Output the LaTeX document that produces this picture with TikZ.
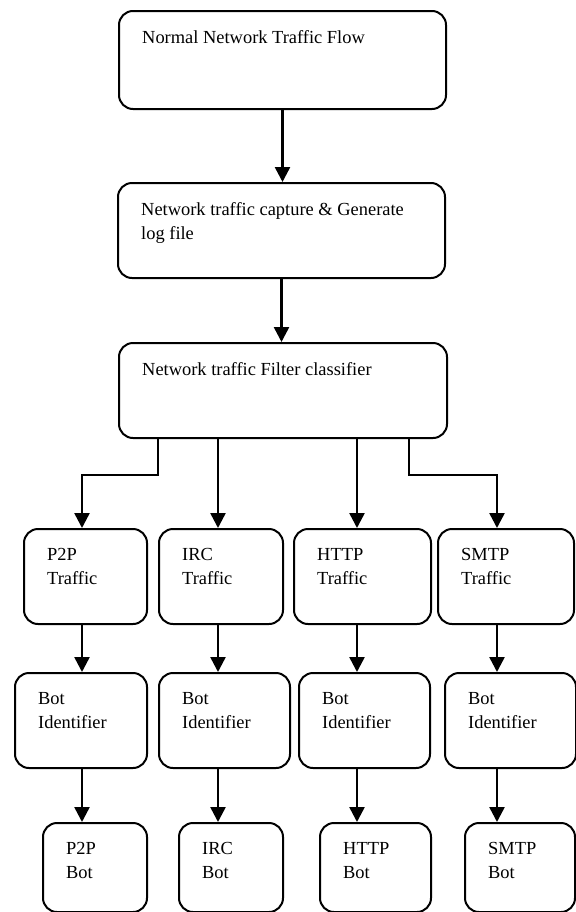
\documentclass[tikz,border=0pt]{standalone}
\usepackage{fontspec}
\setmainfont{Liberation Serif}
\usetikzlibrary{arrows.meta}
\begin{document}
\begin{tikzpicture}[x=1bp, y=-1bp, bnode/.style={rectangle, rounded corners=14bp, draw=black, line width=2bp, anchor=north west, inner sep=0pt}, tlabel/.style={anchor=north west, align=left, inner sep=0pt, xshift=24bp, yshift=-20bp, font=\fontsize{18.5}{24}\selectfont}, arr/.style={line width=2.5bp, -{Triangle[length=15bp 0, width=15bp 0]}}]
	\useasboundingbox (0,0) rectangle (576,912);
	\node[bnode, minimum width=327bp, minimum height=98bp, label={[tlabel]north west:Normal Network Traffic Flow}] (normal) at (118,10) {};
	\node[bnode, minimum width=327bp, minimum height=95bp, label={[tlabel]north west:Network traffic capture \& Generate\\log file}] (capture) at (117,182) {};
	\node[bnode, minimum width=328bp, minimum height=95bp, label={[tlabel]north west:Network traffic Filter classifier}] (filter) at (118,342) {};
	\node[bnode, minimum width=123bp, minimum height=95bp, label={[tlabel]north west:P2P\\Traffic}] (p2pT) at (23,528) {};
	\node[bnode, minimum width=124bp, minimum height=95bp, label={[tlabel]north west:IRC\\Traffic}] (ircT) at (158,528) {};
	\node[bnode, minimum width=137bp, minimum height=95bp, label={[tlabel]north west:HTTP\\Traffic}] (httpT) at (293,528) {};
	\node[bnode, minimum width=136bp, minimum height=95bp, label={[tlabel]north west:SMTP\\Traffic}] (smtpT) at (437,528) {};
	\node[bnode, minimum width=132bp, minimum height=95bp, label={[tlabel]north west:Bot\\Identifier}] (p2pI) at (14,672) {};
	\node[bnode, minimum width=131bp, minimum height=95bp, label={[tlabel]north west:Bot\\Identifier}] (ircI) at (158,672) {};
	\node[bnode, minimum width=131bp, minimum height=95bp, label={[tlabel]north west:Bot\\Identifier}] (httpI) at (298,672) {};
	\node[bnode, minimum width=131bp, minimum height=95bp, label={[tlabel]north west:Bot\\Identifier}] (smtpI) at (444,672) {};
	\node[bnode, minimum width=104bp, minimum height=89bp, label={[tlabel]north west:P2P\\Bot}] (p2pB) at (42,822) {};
	\node[bnode, minimum width=104bp, minimum height=89bp, label={[tlabel]north west:IRC\\Bot}] (ircB) at (178,822) {};
	\node[bnode, minimum width=111bp, minimum height=89bp, label={[tlabel]north west:HTTP\\Bot}] (httpB) at (319,822) {};
	\node[bnode, minimum width=110bp, minimum height=89bp, label={[tlabel]north west:SMTP\\Bot}] (smtpB) at (464,822) {};
	\coordinate (c1) at (82,0);
	\coordinate (c2) at (218,0);
	\coordinate (c3) at (357,0);
	\coordinate (c4) at (497,0);
	\coordinate (f1) at (158,475);
	\coordinate (f4) at (409,475);
	\draw[arr] (normal.south) -- (normal.south |- capture.north);
	\draw[arr] (capture.south) -- (capture.south |- filter.north);
	\draw[arr] (f1 |- filter.south) -- (f1) -| (c1 |- p2pT.north);
	\draw[arr] (c2 |- filter.south) -- (c2 |- ircT.north);
	\draw[arr] (c3 |- filter.south) -- (c3 |- httpT.north);
	\draw[arr] (f4 |- filter.south) -- (f4) -| (c4 |- smtpT.north);
	\draw[arr] (c1 |- p2pT.south) -- (c1 |- p2pI.north);
	\draw[arr] (c2 |- ircT.south) -- (c2 |- ircI.north);
	\draw[arr] (c3 |- httpT.south) -- (c3 |- httpI.north);
	\draw[arr] (c4 |- smtpT.south) -- (c4 |- smtpI.north);
	\draw[arr] (c1 |- p2pI.south) -- (c1 |- p2pB.north);
	\draw[arr] (c2 |- ircI.south) -- (c2 |- ircB.north);
	\draw[arr] (c3 |- httpI.south) -- (c3 |- httpB.north);
	\draw[arr] (c4 |- smtpI.south) -- (c4 |- smtpB.north);
\end{tikzpicture}
\end{document}
